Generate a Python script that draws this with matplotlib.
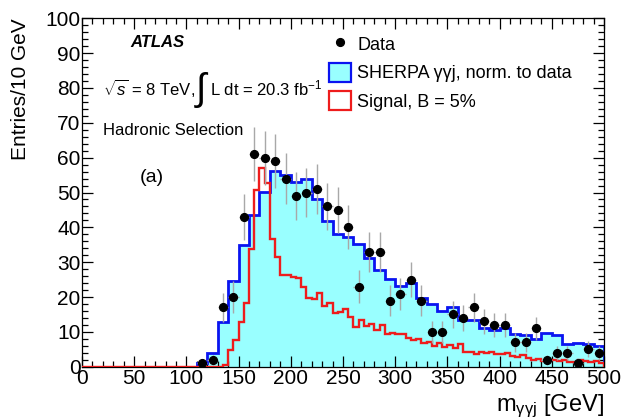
import matplotlib
matplotlib.use("Agg")
import matplotlib.pyplot as plt
import numpy as np
from matplotlib.lines import Line2D
from matplotlib.patches import Patch
from matplotlib.ticker import MultipleLocator

plt.rcParams["font.family"] = ["Liberation Sans", "DejaVu Sans"]
plt.rcParams["mathtext.fontset"] = "custom"
plt.rcParams["mathtext.rm"] = "Liberation Sans"
plt.rcParams["mathtext.it"] = "Liberation Sans:italic"
plt.rcParams["mathtext.bf"] = "Liberation Sans:bold"

# ---------------------------------------------------------------------------
# Histogram contents
# ---------------------------------------------------------------------------
# SHERPA gamma-gamma-jet background, 10 GeV bins from 110 to 500 GeV
bkg_lo = 110
bkg_width = 10
bkg_counts = [1.0, 3.8, 12.9, 24.6, 34.9, 43.5, 50.2, 56.3, 54.9, 53.0,
              54.0, 48.0, 41.8, 38.2, 37.3, 35.1, 31.3, 27.7, 25.1, 23.2,
              24.0, 19.6, 18.0, 16.1, 17.0, 13.4, 13.4, 11.1, 10.4, 11.1,
              9.3, 9.0, 8.0, 9.8, 9.0, 6.5, 6.8, 6.5, 6.0]

# signal (B = 5%), 5 GeV bins from 135 to 500 GeV
sig_lo = 135
sig_width = 5
sig_counts = [0.5, 4.8, 7.7, 12.9, 18.2, 33.7, 50.7, 56.9, 52.6, 36.7,
              31.6, 26.2, 26.2, 25.8, 25.4, 23.0, 19.6, 19.3, 21.2, 17.4,
              18.4, 15.3, 15.8, 16.5, 14.4, 11.5, 13.4, 11.7, 12.3, 10.6,
              12.0, 9.3, 9.8, 9.5, 9.3, 8.1, 7.6, 7.9, 6.7, 7.0,
              6.0, 6.7, 5.7, 6.1, 5.3, 6.4, 4.3, 4.3, 3.6, 4.3,
              3.8, 4.3, 3.6, 3.6, 3.8, 3.1, 2.8, 3.4, 2.4, 2.0,
              2.2, 1.6, 1.8, 1.9, 1.5, 2.0, 1.4, 1.3, 1.8, 1.5,
              1.3, 1.6, 1.0]

# observed events per 10 GeV bin, bin centres 115 ... 495 GeV
data_centres = np.arange(115, 500, 10)
data_counts = [1, 2, 17, 20, 43, 61, 60, 59, 54, 49,
               50, 51, 46, 45, 40, 23, 33, 33, 19, 21,
               25, 19, 10, 10, 15, 14, 17, 13, 12, 12,
               7, 7, 11, 2, 4, 4, 1, 5, 4]

X_MIN, X_MAX = 0, 500


def full_range(lo, width, counts):
    """Pad a histogram with empty bins down to X_MIN."""
    n_empty = int((lo - X_MIN) / width)
    vals = np.concatenate([np.zeros(n_empty), np.asarray(counts, float)])
    edges = X_MIN + width * np.arange(len(vals) + 1)
    return vals, edges


bkg_vals, bkg_edges = full_range(bkg_lo, bkg_width, bkg_counts)
sig_vals, sig_edges = full_range(sig_lo, sig_width, sig_counts)
data_y = np.asarray(data_counts, float)

CYAN = "#99ffff"
BLUE = "#0a14f0"
RED = "#ee1c1c"

fig = plt.figure(figsize=(6.25, 4.19), dpi=100)
ax = fig.add_axes([0.1312, 0.1248, 0.8352, 0.8315])

ax.stairs(bkg_vals, bkg_edges, fill=True, color=CYAN, zorder=1)
ax.stairs(bkg_vals, bkg_edges, color=BLUE, linewidth=2.0, zorder=2)
ax.stairs(sig_vals, sig_edges, color=RED, linewidth=1.7, zorder=3)
ax.errorbar(data_centres, data_y, yerr=np.sqrt(data_y), xerr=5,
            fmt="o", color="black", markersize=5.6, ecolor="#a8a8a8",
            elinewidth=1.0, capsize=0, zorder=4)

ax.set_xlim(X_MIN, X_MAX)
ax.set_ylim(0, 100)
ax.xaxis.set_major_locator(MultipleLocator(50))
ax.xaxis.set_minor_locator(MultipleLocator(10))
ax.yaxis.set_major_locator(MultipleLocator(10))
ax.yaxis.set_minor_locator(MultipleLocator(2))
ax.tick_params(which="both", direction="in", top=True, right=True,
               labelsize=15, width=0.9)
ax.tick_params(which="major", length=8, pad=2)
ax.tick_params(axis="y", which="major", pad=1)
ax.tick_params(which="minor", length=4)
for sp in ax.spines.values():
    sp.set_linewidth(0.9)

ax.set_xlabel(r"m$_{\mathrm{γγj}}$ [GeV]", fontsize=17,
              loc="right", labelpad=3)
ax.set_ylabel("Entries/10 GeV", fontsize=15, loc="top", labelpad=11)

handles = [
    Line2D([], [], marker="o", color="black", linestyle="none", markersize=5.6),
    Patch(facecolor=CYAN, edgecolor=BLUE, linewidth=1.6),
    Patch(facecolor="white", edgecolor=RED, linewidth=1.6),
]
labels = ["Data", "SHERPA γγj, norm. to data", "Signal, B = 5%"]
ax.legend(handles, labels, loc="upper left", bbox_to_anchor=(0.474, 0.955),
          frameon=False, fontsize=13, handlelength=1.2, handleheight=1.25,
          handletextpad=0.35, labelspacing=0.5, borderpad=0, borderaxespad=0)

ax.text(46, 93, "ATLAS", fontsize=12, fontweight="bold", fontstyle="italic",
        va="center", ha="left")
ax.text(20, 80, r"$\sqrt{s}$ = 8 TeV,", fontsize=12, va="center", ha="left")
ax.text(109, 79.3, "\u222b", fontsize=27, va="center", ha="left")
ax.text(123, 80, r"L dt = 20.3 fb$^{-1}$", fontsize=12, va="center", ha="left")
ax.text(20, 67.7, "Hadronic Selection", fontsize=12, va="center", ha="left")
ax.text(55, 54.2, "(a)", fontsize=14, va="center", ha="left")

fig.savefig("out.png", dpi=100)
